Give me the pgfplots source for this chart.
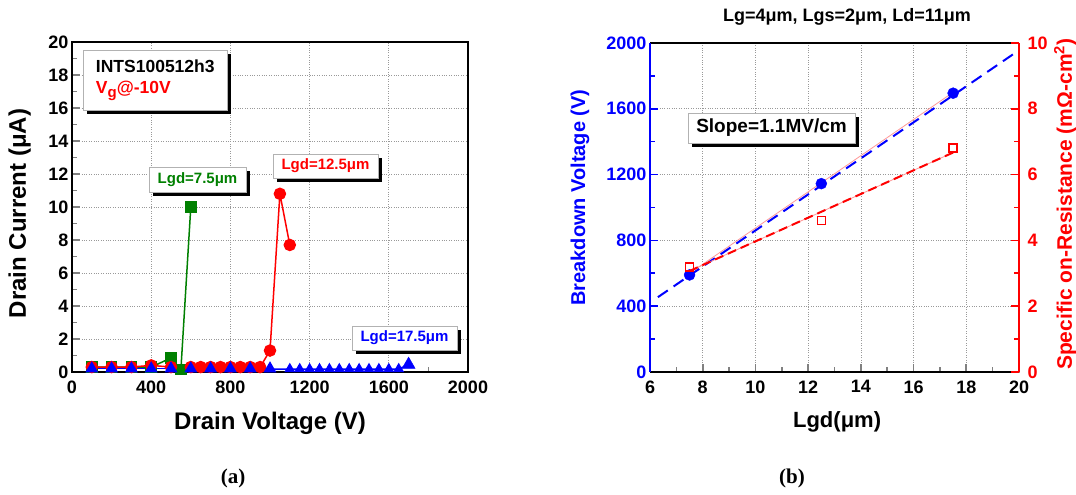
\documentclass[border=0pt]{standalone}
\usepackage{fontspec}
\setmainfont{Liberation Sans}
\newfontfamily\timesfont{Liberation Serif}
\usepackage{pgfplots}
\pgfplotsset{compat=1.18}
\usetikzlibrary{shadows}
\definecolor{og}{RGB}{0,128,0}
\definecolor{pinkl}{RGB}{255,150,150}
\newcommand\fs[1]{\fontsize{#1}{#1}\selectfont\bfseries}
\pgfplotsset{
 common/.style={
  scale only axis, anchor=south west,
  /pgf/number format/assume math mode=true,
  /pgf/number format/1000 sep={},
  tick label style={font=\fs{18}},
  xticklabel style={yshift=-5pt},
  label style={font=\fs{24}},
  grid=major, major grid style={dotted, gray!80, line width=0.7pt},
  major tick length=8pt, minor tick length=5pt,
  tick style={line width=1.6pt},
  clip=false,
 },
}
\tikzset{
 shbox/.style={draw=gray!60, line width=0.6pt, fill=white, inner sep=4pt,
   drop shadow={shadow xshift=4pt, shadow yshift=-4pt, fill=black, opacity=1}},
}
\begin{document}
\begin{tikzpicture}[x=1pt,y=1pt]
\useasboundingbox (0,0) rectangle (1076,495);

% ---------------- (a) ----------------
\begin{axis}[common, at={(72pt,123pt)}, width=396pt, height=330pt,
  xmin=0, xmax=2000, ymin=0, ymax=20,
  xtick={0,400,...,2000}, minor xtick={200,600,...,1800},
  ytick={0,2,...,20}, minor ytick={1,3,...,19},
  xtick pos=left, ytick pos=left,
  axis line style={line width=2.5pt},
  xlabel={Drain Voltage (V)}, ylabel={Drain Current (μA)},
  xlabel style={at={(axis description cs:0.5,-0.155)}, anchor=center},
  ylabel style={at={(axis description cs:-0.132,0.48)}, anchor=center},
]
\addplot[og, line width=1.5pt, mark=square*, mark size=5pt] coordinates {
 (100,0.3)(200,0.3)(300,0.3)(400,0.3)(500,0.85)(550,0.15)(600,10)};
\addplot[red, line width=1.5pt, mark=*, mark size=5.5pt] coordinates {
 (100,0.3)(200,0.3)(300,0.3)(400,0.4)(500,0.3)(600,0.3)(650,0.3)(700,0.3)(750,0.3)
 (800,0.3)(850,0.3)(900,0.3)(950,0.3)(1000,1.3)(1050,10.8)(1100,7.7)};
\addplot[blue, line width=1.5pt, mark=triangle*, mark size=6pt] coordinates {
 (100,0.2)(200,0.2)(300,0.2)(400,0.2)(500,0.2)(600,0.2)(700,0.2)(800,0.2)(900,0.2)(1000,0.2)};
\addplot[blue, line width=1.5pt, mark=triangle*, mark size=4.8pt] coordinates {
 (1000,0.18)(1100,0.18)(1150,0.18)(1200,0.18)(1250,0.18)(1300,0.18)(1350,0.18)(1400,0.18)
 (1450,0.18)(1500,0.18)(1550,0.18)(1600,0.18)(1650,0.18)(1700,0.45)};
\addplot[blue, only marks, mark=triangle*, mark size=7.5pt] coordinates {(1700,0.45)};
\end{axis}

% ---------------- (b) ----------------
\begin{axis}[common, at={(650pt,123pt)}, width=369pt, height=329pt,
  xmin=6, xmax=20, ymin=0, ymax=2000,
  xtick={6,8,...,20}, minor xtick={7,9,...,19},
  ytick={0,400,...,2000}, minor ytick={200,600,...,1800},
  separate axis lines,
  axis x line*=box, axis y line*=left,
  xtick pos=left,
  x axis line style={line width=2.5pt, black, -},
  y axis line style={line width=2.5pt, blue, -},
  yticklabel style={blue}, ytick style={blue},
  ylabel={Breakdown Voltage (V)}, xlabel={Lgd(μm)},
  ylabel style={blue, font=\fs{20}, at={(axis description cs:-0.19,0.53)}, anchor=center},
  xlabel style={font=\fs{22}, at={(axis description cs:0.507,-0.152)}, anchor=center},
]
\addplot[pinkl, line width=0.8pt] coordinates {(7.5,600)(17.5,1700)};
\addplot[blue, line width=2pt, dash pattern=on 12pt off 7pt] coordinates {(6.3,455)(19.9,1945)};
\addplot[blue, only marks, mark=*, mark size=5.5pt] coordinates {(7.5,590)(12.5,1145)(17.5,1695)};
\end{axis}
\begin{axis}[common, at={(650pt,123pt)}, width=369pt, height=329pt,
  xmin=6, xmax=20, ymin=0, ymax=10, grid=none,
  axis x line=none, axis y line*=right,
  ytick={0,2,...,10}, minor ytick={1,3,...,9},
  y axis line style={line width=2.5pt, red, -},
  yticklabel style={red, xshift=5pt}, ytick style={red},
  ylabel={Specific on-Resistance (mΩ-cm\textsuperscript{2})},
  ylabel style={red, font=\fs{21}, at={(axis description cs:1.125,0.51)}, anchor=center},
]
\addplot[pinkl, line width=0.8pt] coordinates {(7.5,3.07)(17.5,6.67)};
\addplot[red, line width=2pt, dash pattern=on 9pt off 5pt] coordinates {(7.5,3.07)(17.5,6.67)};
\addplot[red, only marks, mark=square, mark size=4pt, line width=1.6pt] coordinates {(7.5,3.2)(12.5,4.6)(17.5,6.8)};
\end{axis}

% ---------------- annotations ----------------
\node[shbox, anchor=north west, align=left, minimum width=144pt, minimum height=60pt, inner sep=6pt] at (83,445)
  {\fs{17.5}INTS100512h3\\[7pt]\fs{17.5}\color{red}V\raisebox{-4pt}{\fs{15}g}@-10V};
\node[shbox, minimum width=97pt, minimum height=25pt, inner sep=2pt, text=og, font=\fs{15}] at (197.5,315.5) {Lgd=7.5μm};
\node[shbox, minimum width=105pt, minimum height=24pt, inner sep=2pt, text=red, font=\fs{15}] at (325.5,329) {Lgd=12.5μm};
\node[shbox, minimum width=105pt, minimum height=24pt, inner sep=2pt, text=blue, font=\fs{15}] at (404.5,157) {Lgd=17.5μm};
\node[shbox, minimum width=167pt, minimum height=30pt, inner sep=2pt, font=\fs{19}] at (771.5,367) {Slope=1.1MV/cm};
\node[font=\fs{18}] at (847,478) {Lg=4μm, Lgs=2μm, Ld=11μm};
\node[font=\timesfont\fontsize{21}{21}\selectfont\bfseries] at (233,17) {(a)};
\node[font=\timesfont\fontsize{21}{21}\selectfont\bfseries] at (792,17) {(b)};
\end{tikzpicture}
\end{document}
